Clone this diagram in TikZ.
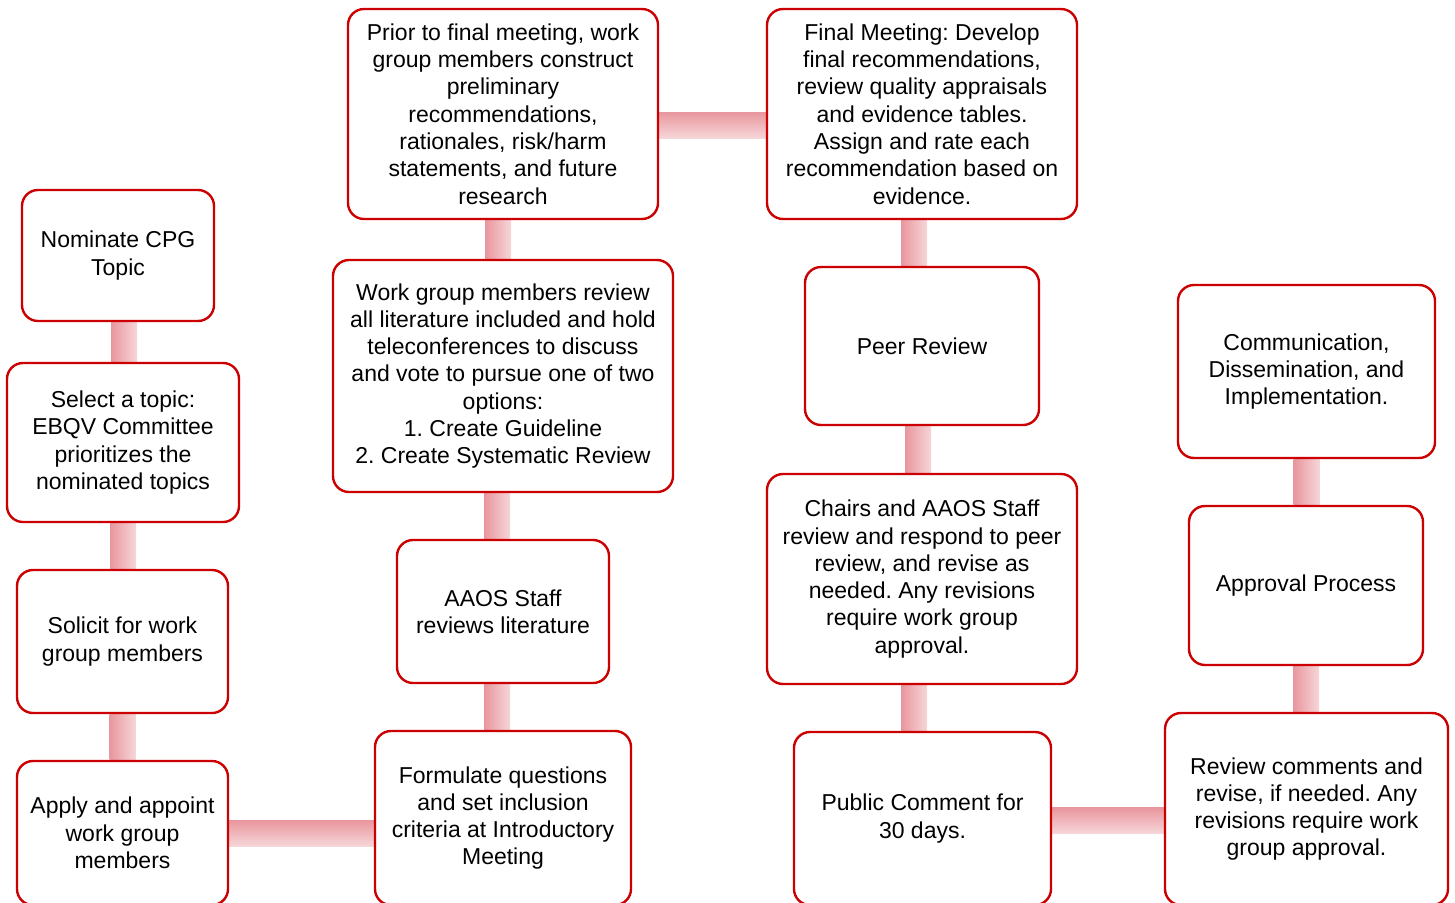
\documentclass[tikz,border=0pt]{standalone}
\usepackage{fontspec}
\setmainfont{Liberation Sans}
\usetikzlibrary{backgrounds}
\definecolor{box_red}{RGB}{204,0,0}
\definecolor{bar_dark}{RGB}{232,150,157}
\definecolor{bar_light}{RGB}{246,214,217}

\tikzset{
	stepnode/.style={draw=box_red,line width=2.4pt,rounded corners=16pt,fill=white,align=center,inner sep=4pt,font=\fontsize{23}{27.3}\selectfont\frenchspacing}
}

\begin{document}
\begin{tikzpicture}[x=1pt,y=-1pt]
	\useasboundingbox (0,0) rectangle (1455,902);

	% first column
	\node[stepnode,minimum width=192pt,minimum height=131pt] (nominate) at (118,255.5) {Nominate CPG\\Topic};
	\node[stepnode,minimum width=232pt,minimum height=159pt] (select) at (123,442.5) {Select a topic:\\EBQV Committee\\prioritizes the\\nominated topics};
	\node[stepnode,minimum width=211pt,minimum height=143pt] (solicit) at (122.5,641.5) {Solicit for work\\group members};
	\node[stepnode,minimum width=211pt,minimum height=144pt] (appoint) at (122.5,833) {Apply and appoint\\work group\\members};

	% second column
	\node[stepnode,minimum width=256pt,minimum height=174pt] (formulate) at (503,818) {Formulate questions\\and set inclusion\\criteria at Introductory\\Meeting};
	\node[stepnode,minimum width=212pt,minimum height=143pt] (staff) at (503,611.5) {AAOS Staff\\reviews literature};
	\node[stepnode,minimum width=340pt,minimum height=232pt] (review) at (503,376) {Work group members review\\all literature included and hold\\teleconferences to discuss\\and vote to pursue one of two\\options:\\1. Create Guideline\\2. Create Systematic Review};
	\node[stepnode,minimum width=310pt,minimum height=210pt] (prior) at (503,114) {Prior to final meeting, work\\group members construct\\preliminary\\recommendations,\\rationales, risk/harm\\statements, and future\\research};

	% third column
	\node[stepnode,minimum width=310pt,minimum height=210pt] (final) at (922,114) {Final Meeting: Develop\\final recommendations,\\review quality appraisals\\and evidence tables.\\Assign and rate each\\recommendation based on\\evidence.};
	\node[stepnode,minimum width=234pt,minimum height=158pt] (peer) at (922,346) {Peer Review};
	\node[stepnode,minimum width=310pt,minimum height=210pt] (chairs) at (922,579) {Chairs and AAOS Staff\\review and respond to peer\\review, and revise as\\needed. Any revisions\\require work group\\approval.};
	\node[stepnode,minimum width=257pt,minimum height=173pt] (public) at (922.5,818.5) {Public Comment for\\30 days.};

	% fourth column
	\node[stepnode,minimum width=283pt,minimum height=192pt] (comments) at (1306.5,809) {Review comments and\\revise, if needed. Any\\revisions require work\\group approval.};
	\node[stepnode,minimum width=234pt,minimum height=159pt] (approval) at (1306,585.5) {Approval Process};
	\node[stepnode,minimum width=257pt,minimum height=173pt] (dissemination) at (1306.5,371.5) {Communication,\\Dissemination, and\\Implementation.};

	% links, upper node first
	\begin{pgfonlayer}{background}
		\foreach \a/\b/\dx in {nominate/select/6,select/solicit/0,solicit/appoint/0,staff/formulate/-6,review/staff/-6,prior/review/-5,final/peer/-8,peer/chairs/-4,chairs/public/-8,approval/comments/0,dissemination/approval/0}
			\shade[left color=bar_dark,right color=bar_light] ([xshift=\dx pt-13pt]\a.south) rectangle ([xshift=\dx pt+13pt]\a.south |- \b.north);
		\foreach \a/\b/\dy in {appoint/formulate/0,prior/final/-11,public/comments/-2}
			\shade[top color=bar_dark,bottom color=bar_light] ([yshift=\dy pt+13pt]\a.east) rectangle ([yshift=\dy pt-13pt]\a.east -| \b.west);
	\end{pgfonlayer}
\end{tikzpicture}
\end{document}
